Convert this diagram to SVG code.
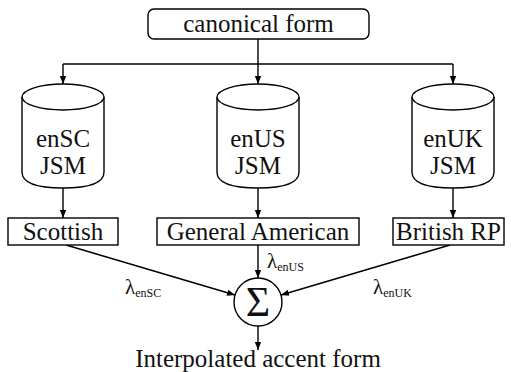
<svg xmlns="http://www.w3.org/2000/svg" width="511" height="372" viewBox="0 0 511 372">
<style>
.s{fill:#fff;stroke:#000;stroke-width:1.4}
.l{fill:none;stroke:#000;stroke-width:1.4}
.t{font-family:'Liberation Serif',Tinos,'Times New Roman','DejaVu Serif',serif;font-size:25px;fill:#111;text-anchor:middle}
.lam{font-family:'Liberation Serif',Tinos,'Times New Roman','DejaVu Serif',serif;font-size:21px;fill:#111}
.sub{font-size:12px}
</style>
<defs>
<marker id="a" viewBox="0 0 10 10" refX="10" refY="5" markerWidth="8" markerHeight="8" markerUnits="userSpaceOnUse" orient="auto">
<path d="M0,1 L10,5 L0,9 Z" fill="#000"/>
</marker>
</defs>
<g id="connectors">
<path class="l" d="M258,39 V84" marker-end="url(#a)"/>
<path class="l" d="M63,64 H453"/>
<path class="l" d="M63,64 V84" marker-end="url(#a)"/>
<path class="l" d="M453,64 V84" marker-end="url(#a)"/>
<path class="l" d="M63,188 V218" marker-end="url(#a)"/>
<path class="l" d="M258,188 V218" marker-end="url(#a)"/>
<path class="l" d="M453,188 V218" marker-end="url(#a)"/>
<path class="l" d="M66,245 L235,295" marker-end="url(#a)"/>
<path class="l" d="M258,245 V278" marker-end="url(#a)"/>
<path class="l" d="M450,245 L281,295" marker-end="url(#a)"/>
<path class="l" d="M258,326 V350" marker-end="url(#a)"/>
</g>
<g id="canonical">
<rect class="s" x="148" y="9" width="221" height="30" rx="6"/>
<text class="t" x="258.5" y="32">canonical form</text>
</g>
<g id="enSC">
<path class="s" d="M22,97 V172 Q22,188 63,188 Q104,188 104,172 V97"/>
<ellipse class="s" cx="63" cy="97" rx="41" ry="13"/>
<text class="t" x="63" y="147">enSC</text>
<text class="t" x="63" y="174">JSM</text>
</g>
<g id="enUS">
<path class="s" d="M217,97 V172 Q217,188 258,188 Q299,188 299,172 V97"/>
<ellipse class="s" cx="258" cy="97" rx="41" ry="13"/>
<text class="t" x="258" y="147">enUS</text>
<text class="t" x="258" y="174">JSM</text>
</g>
<g id="enUK">
<path class="s" d="M412,97 V172 Q412,188 453,188 Q494,188 494,172 V97"/>
<ellipse class="s" cx="453" cy="97" rx="41" ry="13"/>
<text class="t" x="453" y="147">enUK</text>
<text class="t" x="453" y="174">JSM</text>
</g>
<g id="scottish">
<rect class="s" x="8" y="218" width="110" height="27"/>
<text class="t" x="63" y="240">Scottish</text>
</g>
<g id="general-american">
<rect class="s" x="157" y="218" width="202" height="27"/>
<text class="t" x="258" y="240">General American</text>
</g>
<g id="british-rp">
<rect class="s" x="393" y="218" width="111" height="27"/>
<text class="t" x="448.5" y="240">British RP</text>
</g>
<g id="sum">
<circle class="s" cx="258" cy="302" r="24"/>
<text class="t" x="258" y="316" style="font-size:42px">Σ</text>
</g>
<g id="output">
<text class="t" x="258" y="367">Interpolated accent form</text>
</g>
<g id="weights">
<text class="lam" x="125" y="294">λ<tspan class="sub" dy="3">enSC</tspan></text>
<text class="lam" x="267" y="268">λ<tspan class="sub" dy="3">enUS</tspan></text>
<text class="lam" x="373" y="294">λ<tspan class="sub" dy="3">enUK</tspan></text>
</g>
</svg>
